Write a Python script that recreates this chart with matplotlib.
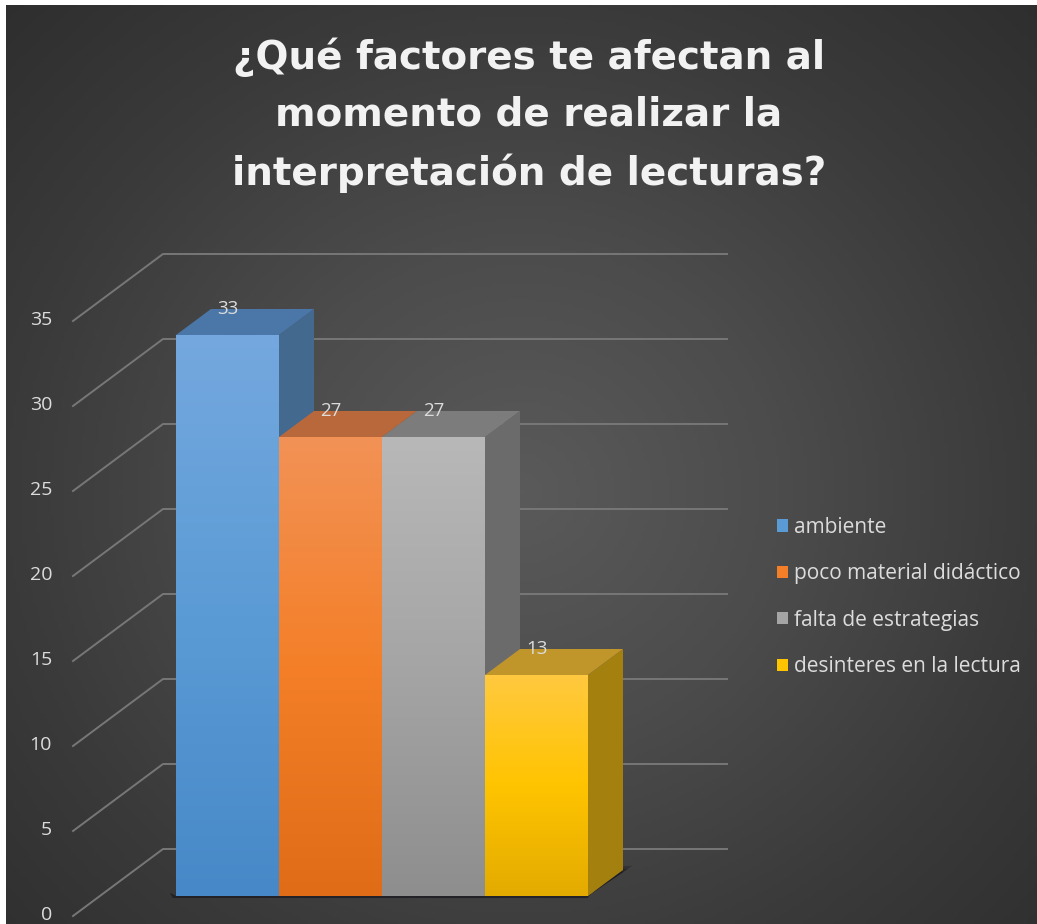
import numpy as np
import matplotlib
matplotlib.use('Agg')
import matplotlib.pyplot as plt
from matplotlib.colors import LinearSegmentedColormap
from matplotlib.patches import Patch

# Datos
categorias = ['ambiente', 'poco material didáctico', 'falta de estrategias', 'desinteres en la lectura']
valores = [33, 27, 27, 13]
ticks_y = [0, 5, 10, 15, 20, 25, 30, 35]
titulo = '¿Qué factores te afectan al\nmomento de realizar la\ninterpretación de lecturas?'

# Colores de cada barra: frente (arriba, medio, abajo), lado, tapa
col_frente = [('#74a8de', '#5b9bd5', '#4788c8'),
              ('#f29256', '#f47f28', '#e06c18'),
              ('#b8b8b8', '#a5a5a5', '#8e8e8e'),
              ('#ffc93f', '#ffc400', '#e3ab00')]
col_lado = ['#44698f', '#a85a28', '#6b6b6b', '#a4810f']
col_tapa = ['#4a77a8', '#b8683a', '#7c7c7c', '#c0952a']
col_texto = '#dcdcdc'

# Escala en pixeles de la imagen original
px_x, px_y = 103.0, 17.0
x0_px, y0_px = 176.0, 896.0
prof_x, prof_y = 35 / px_x, 26 / px_y

plt.rcParams['font.family'] = ['Open Sans', 'DejaVu Sans']

fig = plt.figure(figsize=(10.37, 9.24), dpi=100, facecolor='white')
ax = fig.add_axes([6 / 1037, 0, 1031 / 1037, 919 / 924])
xlim = ((6 - x0_px) / px_x, (1037 - x0_px) / px_x)
ylim = ((y0_px - 924) / px_y, (y0_px - 5) / px_y)

# Fondo con gradiente radial
yy, xx = np.mgrid[0:1:300j, 0:1:300j]
r = np.sqrt(((xx - 0.5) / 0.75) ** 2 + ((yy - 0.47) / 0.8) ** 2)
fondo = LinearSegmentedColormap.from_list('fondo', ['#5a5a5a', '#4c4c4c', '#3a3a3a', '#2c2c2c'])
ax.imshow(r, extent=(*xlim, *ylim), origin='lower', aspect='auto', cmap=fondo, vmin=0, vmax=1, zorder=0)

# Lineas de cuadricula y etiquetas del eje
fondo_x = (163 - x0_px) / px_x
fin_x = (727 - x0_px) / px_x
diag_x = (73 - x0_px) / px_x
fondo_y = (896 - 849) / px_y
diag_y = (896 - 916) / px_y
for t in ticks_y:
    ax.plot([diag_x, fondo_x, fin_x], [t + diag_y, t + fondo_y, t + fondo_y],
            color='#777777', lw=1.4, zorder=1)
    ax.text((52 - x0_px) / px_x, t + diag_y + 0.08, str(t), color=col_texto, fontsize=14,
            ha='right', va='center', zorder=5)

# Sombra en la base de las barras
for k, alfa in zip([1.05, 0.95, 0.85], [0.3, 0.4, 0.5]):
    ax.fill([4, 4 + prof_x * 1.2 * k, 4 + prof_x * 1.2 * k - 0.08, 4],
            [0, prof_y * 1.1 * k, prof_y * 1.1 * k, -0.05], color='#141420', alpha=alfa, lw=0, zorder=2)
ax.fill([-0.06, 0, 4, 4, -0.03], [0.2, 0, 0, -0.12, -0.12], color='#1c1c22', alpha=0.8, lw=0, zorder=2)

# Barras en falso 3D
for i, v in enumerate(valores):
    z = 3 + i * 0.1
    ax.fill([i + 1, i + 1 + prof_x, i + 1 + prof_x, i + 1], [0, prof_y, v + prof_y, v],
            color=col_lado[i], lw=0, zorder=z)
    ax.fill([i, i + prof_x, i + 1 + prof_x, i + 1], [v, v + prof_y, v + prof_y, v],
            color=col_tapa[i], lw=0, zorder=z)
    cmap = LinearSegmentedColormap.from_list('b%d' % i, list(col_frente[i]))
    ax.imshow(np.linspace(0, 1, 200).reshape(-1, 1), extent=(i, i + 1, 0, v), origin='upper',
              aspect='auto', cmap=cmap, zorder=z + 0.01)
    ax.text(i + 0.5, v + prof_y, str(v), color=col_texto, fontsize=13.5, ha='center', va='center', zorder=6)

ax.set_xlim(xlim)
ax.set_ylim(ylim)
ax.axis('off')

# Titulo
ax.text((529 - x0_px) / px_x, (y0_px - 115) / px_y, titulo, color='#f2f2f2', fontsize=28, fontweight='bold',
        family='DejaVu Sans', ha='center', va='center', linespacing=1.62, zorder=6)

# Leyenda
handles = [Patch(facecolor=c[1], edgecolor='none') for c in col_frente]
ax.legend(handles, categorias, loc='center left', bbox_to_anchor=(771 / 1031, 1 - (597 - 5) / 919),
          frameon=False, fontsize=15, labelcolor=col_texto, handlelength=0.53, handleheight=0.53,
          handletextpad=0.3, labelspacing=1.22, borderpad=0, borderaxespad=0)

fig.savefig('out.png', dpi=100)
